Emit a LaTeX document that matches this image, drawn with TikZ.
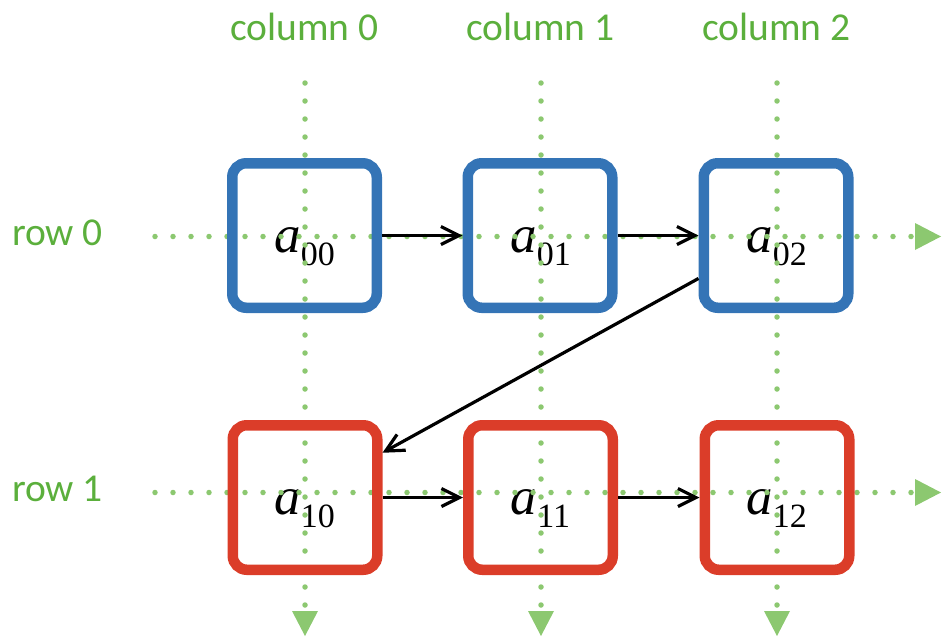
\documentclass[tikz,border=0pt]{standalone}
\usepackage{fontspec}
\setmainfont{Liberation Serif}
\newfontfamily\calibfont{Carlito}
\usetikzlibrary{arrows.meta}
\definecolor{boxblue}{HTML}{3474B6}
\definecolor{boxred}{HTML}{DB3D29}
\definecolor{gridgreen}{HTML}{8CC870}
\definecolor{labelgreen}{HTML}{5BAF3C}
\newcommand{\elemtext}[1]{\fontsize{53}{60}\selectfont\textit{a}\raisebox{-13pt}{\fontsize{34}{40}\selectfont #1}}
\begin{document}
\begin{tikzpicture}[x=1pt,y=-1pt,
  cell/.style={draw, line width=10.5pt, rounded corners=14pt, minimum width=144.5pt, minimum height=144.5pt, inner sep=0pt},
  blue cell/.style={cell, draw=boxblue},
  red cell/.style={cell, draw=boxred},
  elem/.style={anchor=base, inner sep=0pt},
  gridline/.style={draw=gridgreen, line width=5.5pt, line cap=round, dash pattern=on 0pt off 18pt},
  gridtip/.style={fill=gridgreen},
  axislabel/.style={text=labelgreen, font=\calibfont\fontsize{39.5}{44}\selectfont, anchor=base, inner sep=0pt},
  link/.style={line width=3.2pt, -{Straight Barb[length=18pt,width=18pt]}}
]
\useasboundingbox (0,0) rectangle (946,640);

% axis labels
\node[axislabel] (c0) at (304.5,40) {column 0};
\node[axislabel] (c1) at (540.5,40) {column 1};
\node[axislabel] (c2) at (776.5,40) {column 2};
\node[axislabel] (r0) at (57.5,245) {row 0};
\node[axislabel] (r1) at (57.5,501) {row 1};

% element texts
\node[elem] (t00) at (304.5,252) {\elemtext{00}};
\node[elem] (t01) at (540.5,252) {\elemtext{01}};
\node[elem] (t02) at (776.5,252) {\elemtext{02}};
\node[elem] (t10) at (304.5,514) {\elemtext{10}};
\node[elem] (t11) at (540.5,514) {\elemtext{11}};
\node[elem] (t12) at (776.5,514) {\elemtext{12}};

% grid lines
\foreach \x in {305,541,777} {
  \path[gridline] (\x,83) -- (\x,605);
  \fill[gridtip] (\x-13,611) -- (\x+13,611) -- (\x,636) -- cycle;
}
\foreach \y in {236.5,492.5} {
  \path[gridline] (155,\y) -- (911,\y);
  \fill[gridtip] (915,\y-13.5) -- (915,\y+13.5) -- (941,\y) -- cycle;
}

% cells
\node[blue cell] (b00) at (304.5,235.5) {};
\node[blue cell] (b01) at (540,235.5) {};
\node[blue cell] (b02) at (776,235.5) {};
\node[red cell] (b10) at (305,497.5) {};
\node[red cell] (b11) at (540.5,497.5) {};
\node[red cell] (b12) at (777,497.5) {};

% links
\draw[link] (b00.east) -- (b01.west);
\draw[link] (b01.east) -- (b02.west);
\draw[link] (b02.209) -- (b10.30);
\draw[link] (b10.east) -- (b11.west);
\draw[link] (b11.east) -- (b12.west);
\end{tikzpicture}
\end{document}
